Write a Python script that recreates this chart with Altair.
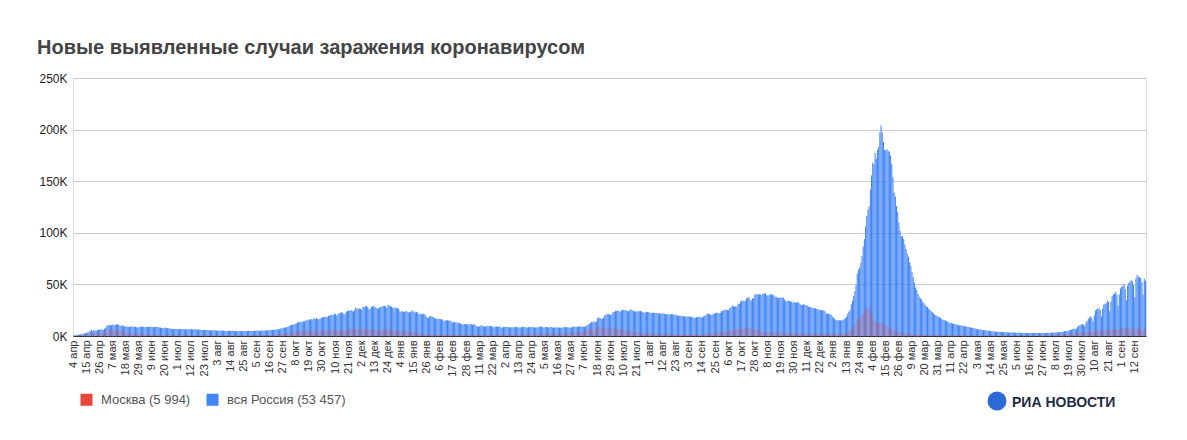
import altair as alt
import pandas as pd

# ---------------- data (thousands of new cases per day) ----------------
ru_2020_04 = [0.6,0.58,0.66,1.15,1.18,1.46,1.79,1.67,2.19,2.56,
              2.77,3.39,3.45,4.07,4.79,6.06,4.27,5.64,5.24,4.77,
              5.85,5.97,6.36,6.2,6.41,5.84,7.1]
ru_2020_05 = [7.93,9.62,10.63,10.58,10.1,10.56,11.23,10.7,10.82,11.01,
              11.66,10.9,10.03,9.97,10.6,9.2,9.71,8.93,9.26,8.76,
              8.85,8.89,9.43,8.6,8.95,8.92,8.34,8.37,8.57,8.95,9.27]
ru_2020_06 = [9.04,8.86,8.54,8.83,8.73,8.86,8.98,8.99,8.6,8.4,
              8.78,8.99,8.71,8.84,8.25,8.25,7.84,7.79,7.97,7.89,
              7.73,7.6,7.43,7.18,7.11,6.8,6.85,6.79,6.72,6.69]
ru_2020_07 = [6.56,6.76,6.72,6.74,6.63,6.61,6.37,6.56,6.51,6.64,
              6.61,6.62,6.54,6.25,6.42,6.43,6.41,6.23,6.11,5.94,
              5.84,5.86,5.85,5.81,5.87,5.77,5.64,5.4,5.48,5.51,5.48]
ru_2020_08 = [5.46,5.43,5.16,5.2,5.27,5.24,5.21,5.19,5.12,4.95,
              4.89,5.1,5.06,5.07,5.06,4.97,4.84,4.75,4.83,4.77,
              4.87,4.92,4.85,4.7,4.68,4.71,4.83,4.94,4.98,4.9,4.73]
ru_2020_09 = [4.73,4.95,5.11,5.11,5.21,5.2,5.19,5.1,5.22,5.36,
              5.41,5.45,5.49,5.51,5.53,5.67,5.76,5.91,6.07,6.15,
              6.2,6.22,6.43,6.6,7.21,7.52,7.87,8.14,8.23,8.48]
ru_2020_10 = [8.95,9.41,10.5,10.89,10.89,11.12,11.62,12.13,12.85,13.63,
              13.59,13.87,13.75,14.23,14.28,15.15,15.1,15.98,15.72,16.32,
              16.19,15.97,17.34,16.52,17.35,16.55,16.2,16.55,17.72,18.28,18.14]
ru_2020_11 = [18.67,18.26,18.65,19.77,19.4,20.58,20.5,20.4,21.8,20.98,
              19.85,21.61,21.98,22.78,22.57,22.7,21.4,20.98,23.61,24.32,
              24.82,24.58,25.17,24.33,23.68,25.49,27.54,26.68,26.34,26.68]
ru_2020_12 = [26.4,25.35,28.15,28.21,28.78,29.04,28.14,26.1,26.19,28.59,
              28.21,29.35,28.14,27.33,26.69,26.81,27.79,28.21,28.55,28.95,
              29.35,28.78,27.04,29.94,29.26,29.02,28.28,27.79,26.51,27.75,26.82]
ru_2021_01 = [27.03,26.3,24.25,23.35,24.15,23.31,23.54,24.22,23.65,22.85,
              23.32,22.93,24.76,23.51,24.09,22.85,23.59,22.86,21.15,21.13,
              21.51,21.15,21.73,21.13,19.29,17.74,17.65,19.14,19.03,19.24,18.36]
ru_2021_02 = [17.65,16.64,16.71,16.69,16.63,16.47,16.05,15.92,14.21,14.98,
              15.17,15.26,15.02,14.74,14.59,12.74,13.44,13.89,13.19,13.2,
              12.74,12.93,11.75,11.57,11.2,11.53,11.61,11.36]
ru_2021_03 = [11.39,10.57,11.53,11.39,11.02,11.53,10.6,9.91,9.27,9.08,
              9.8,10.14,10.02,9.91,9.27,9.08,9.8,9.84,9.63,9.7,
              9.39,8.91,8.46,9.13,9.29,9.07,9.17,9.09,8.28,8.05,8.89]
ru_2021_04 = [8.67,8.81,8.81,8.65,8.33,8.29,8.77,8.29,8.7,8.77,
              8.6,8.27,8.3,8.17,8.4,8.9,8.74,8.71,8.69,8.05,
              8.45,8.99,8.39,8.73,8.76,8.32,8.12,8.12,8.36,8.74]
ru_2021_05 = [9.3,9.27,8.42,7.77,8.8,8.62,8.42,8.27,8.79,8.95,
              8.35,8.22,8.22,8.22,8.55,8.33,8.12,8.07,8.22,8.21,
              8.95,8.55,8.62,8.35,8.26,8.25,8.13,8.95,8.94,8.95,9.06]
ru_2021_06 = [9.02,9.12,9.14,9.16,9.35,9.05,8.95,9.23,10.4,11.06,
              11.7,12.51,13.72,13.4,14.19,13.4,14.06,17.26,17.91,17.61,
              16.72,16.72,17.59,20.18,20.39,21.67,21.65,20.54,20.62,21.04]
ru_2021_07 = [23.54,23.22,24.44,24.35,24.7,23.96,23.38,24.82,25.77,25.08,
              25.14,24.7,24.47,23.77,25.29,25.7,25.02,24.44,23.95,23.77,
              24.07,23.7,24.14,24.11,23.77,23.03,22.8,22.42,23.27,23.56,23.27]
ru_2021_08 = [22.59,22.2,22.59,22.59,22.3,22.32,22.33,22.12,22.0,21.66,
              21.93,21.82,21.63,21.1,21.07,20.99,20.77,21.06,21.05,21.0,
              20.6,20.53,20.56,19.63,19.63,19.63,19.6,19.5,19.5,18.87,18.98]
ru_2021_09 = [18.78,18.85,18.78,18.69,18.37,17.86,17.86,17.52,18.34,18.17,
              18.45,18.69,17.84,18.06,18.84,19.59,20.17,21.44,21.56,21.44,
              20.33,20.17,21.38,21.78,22.14,22.43,22.29,21.8,22.43,23.89]
ru_2021_10 = [24.52,25.0,25.78,25.15,25.13,25.12,27.25,27.51,29.36,29.41,
              28.19,28.72,28.72,31.3,31.3,33.21,34.3,34.33,33.74,34.07,
              36.34,37.14,37.68,35.66,34.33,36.58,36.44,40.1,40.1,40.99,40.25]
ru_2021_11 = [40.4,40.1,40.22,40.74,41.27,41.34,39.16,39.4,39.16,40.76,
              40.12,40.2,39.26,38.06,37.92,37.15,36.82,37.37,37.12,37.37,
              37.16,35.68,33.56,33.6,34.68,33.86,33.55,33.55,32.14,32.93]
ru_2021_12 = [32.6,32.14,32.93,32.1,31.3,29.93,29.93,30.93,30.1,29.9,
              29.63,28.49,28.09,27.79,27.43,27.4,27.01,26.82,26.13,25.83,
              25.79,25.3,25.08,24.9,24.75,23.72,21.44,21.92,21.88,21.07,20.81]
ru_2022_01 = [18.78,17.86,16.75,15.83,15.31,15.16,15.27,15.19,15.05,15.83,
              16.25,17.5,18.54,21.26,23.82,25.04,30.73,33.9,38.82,43.39,
              49.51,60.2,64.3,66.1,70.8,77.7,86.8,94.0,106.1,116.2,122.5]
ru_2022_02 = [125.8,141.9,155.8,168.2,166.6,177.3,171.9,180.5,183.1,197.1,
              203.9,197.1,187.9,180.5,180.1,180.9,179.6,178.5,175.0,166.6,
              153.8,139.1,135.2,126.0,120.5,110.0,102.0,96.5]
ru_2022_03 = [97.2,94.1,88.6,84.3,79.8,76.7,71.4,67.9,61.8,57.3,
              51.6,47.2,44.5,40.8,38.3,36.9,35.1,33.0,31.8,30.2,
              28.6,28.1,26.7,25.2,24.1,23.5,22.0,20.7,20.2,19.3,18.9]
ru_2022_04 = [18.1,17.7,16.2,15.8,15.4,14.9,14.4,13.5,13.3,12.7,
              12.5,12.1,11.9,11.7,11.2,10.8,10.6,10.2,10.3,9.9,
              9.7,9.6,9.2,9.1,8.8,8.7,8.3,8.2,7.7,7.6]
ru_2022_05 = [7.2,7.1,6.6,6.5,6.3,6.2,5.8,5.7,5.5,5.5,
              5.3,5.2,5.0,4.8,4.6,4.7,4.4,4.4,4.2,4.2,
              4.0,4.0,3.8,3.9,3.7,3.8,3.6,3.6,3.5,3.5,3.4]
ru_2022_06 = [3.4,3.3,3.3,3.2,3.2,3.1,3.2,3.1,3.0,3.0,
              3.1,2.9,2.9,3.0,2.9,2.8,2.9,2.8,2.8,2.9,
              2.8,2.9,2.8,2.9,2.9,2.8,2.9,3.0,3.0,3.1]
ru_2022_07 = [3.1,3.0,3.1,3.2,3.3,3.3,3.4,3.5,3.6,3.6,
              3.8,3.9,4.1,4.3,4.6,4.8,4.7,5.0,5.4,5.9,
              6.4,6.8,7.2,6.7,7.3,8.8,9.9,10.6,11.2,11.6,10.9]
ru_2022_08 = [9.5,13.0,14.5,16.4,17.9,19.0,17.4,14.0,20.1,24.7,
              25.8,26.3,27.0,25.1,19.0,26.7,30.5,31.2,31.6,34.5,
              33.0,24.0,33.5,38.5,40.5,41.0,42.7,39.9,29.5,40.2,46.0]
ru_2022_09 = [47.5,48.6,49.9,45.2,34.5,48.7,51.3,52.6,54.0,53.1,
              49.5,37.6,55.8,59.0,57.5,56.9,56.2,52.0,40.0,55.2,53.457]

msk_2020_04 = [0.43,0.45,0.5,0.7,0.8,1.0,1.12,1.0,1.35,1.49,
               1.6,1.7,1.79,1.96,2.65,3.57,2.55,2.61,2.95,2.21,
               2.95,3.08,3.4,2.9,3.0,2.22,3.07]
msk_2020_05 = [4.1,5.36,6.0,5.95,5.7,6.7,6.0,5.8,5.4,5.6,
               6.17,5.9,4.7,4.8,5.5,4.0,3.5,3.25,3.05,2.5,
               2.6,2.3,2.99,2.5,2.3,2.1,2.0,2.0,2.1,2.2,2.3]
msk_2020_06 = [2.1,2.0,1.6,1.8,1.6,1.6,1.6,1.6,1.6,1.4,
               1.3,1.3,1.2,1.2,1.1,1.1,1.0,1.0,0.95,0.9,
               0.9,0.85,0.8,0.8,0.75,0.75,0.7,0.7,0.68,0.65]
msk_2020_07 = [0.65,0.65,0.7,0.7,0.68,0.65,0.6,0.6,0.62,0.65,
               0.64,0.65,0.62,0.6,0.62,0.64,0.65,0.64,0.64,0.62,
               0.62,0.62,0.64,0.65,0.65,0.64,0.64,0.64,0.65,0.66,0.66]
msk_2020_08 = [0.68,0.67,0.68,0.69,0.7,0.7,0.7,0.69,0.69,0.68,
               0.68,0.69,0.69,0.7,0.7,0.69,0.69,0.68,0.68,0.67,
               0.67,0.66,0.66,0.64,0.63,0.62,0.63,0.66,0.68,0.7,0.7]
msk_2020_09 = [0.7,0.72,0.74,0.73,0.74,0.75,0.76,0.74,0.75,0.8,
               0.85,0.9,0.95,1.0,1.05,1.05,1.05,1.1,1.3,1.5,
               1.56,1.56,1.6,1.7,2.0,2.22,2.26,2.36,2.45,2.5]
msk_2020_10 = [2.71,2.9,3.33,3.5,3.55,3.23,3.77,4.08,4.36,4.88,
               4.75,4.9,4.4,4.4,4.3,4.62,5.1,5.38,4.7,4.65,
               4.1,3.82,4.75,4.49,5.2,4.3,4.3,4.5,5.0,5.26,5.16]
msk_2020_11 = [5.26,4.95,5.26,5.0,4.9,6.25,6.0,5.98,6.9,5.4,
               4.7,5.6,5.8,6.3,5.9,5.9,5.0,5.0,6.0,6.5,
               6.7,7.0,7.1,7.2,6.8,6.6,7.2,7.0,6.8,6.7]
msk_2020_12 = [6.6,6.5,7.1,7.2,7.5,7.9,6.9,5.3,5.9,6.4,
               6.5,6.6,6.4,6.0,5.1,5.2,5.5,5.7,6.0,6.4,
               6.9,6.5,5.9,8.2,7.6,6.8,6.0,5.8,5.4,5.6,5.5]
msk_2021_01 = [5.3,5.1,4.8,4.4,4.6,4.4,4.6,4.9,4.8,4.6,
               4.4,4.2,4.1,3.6,3.4,3.2,3.1,3.1,2.6,2.5,
               2.4,2.3,2.1,2.0,1.95,1.8,1.7,1.9,1.9,1.9,1.7]
msk_2021_02 = [1.7,1.5,1.7,1.75,1.8,1.8,1.7,1.8,1.5,1.65,
               1.75,1.8,1.9,1.8,1.7,1.4,1.5,1.6,1.6,1.6,
               1.5,1.5,1.4,1.4,1.35,1.4,1.5,1.5]
msk_2021_03 = [1.4,1.3,1.4,1.4,1.4,1.5,1.5,1.4,1.3,1.2,
               1.4,1.5,1.5,1.4,1.3,1.2,1.4,1.5,1.5,1.5,
               1.5,1.45,1.4,1.6,1.6,1.6,1.7,1.7,1.3,1.4,1.7]
msk_2021_04 = [1.7,1.8,1.8,1.8,1.6,1.5,1.6,1.6,1.7,1.8,
               1.8,1.6,1.6,1.7,1.8,1.9,2.0,2.0,1.9,1.8,
               1.9,2.0,2.0,2.1,2.1,1.9,1.9,2.0,2.1,2.2]
msk_2021_05 = [2.3,2.4,2.2,2.1,2.3,2.3,2.4,2.5,2.6,2.6,
               2.5,2.4,2.4,2.5,2.6,2.7,2.7,2.7,2.8,2.9,
               3.0,3.1,3.2,3.2,3.3,3.4,3.5,3.7,3.6,3.7,3.8]
msk_2021_06 = [3.8,3.9,4.0,4.3,4.4,4.5,4.8,5.2,5.3,5.8,
               6.2,6.7,7.0,7.3,6.1,6.5,6.8,9.1,9.1,8.6,
               7.9,7.4,7.0,7.2,7.4,7.4,7.1,6.5,6.9,7.6]
msk_2021_07 = [7.6,7.0,7.4,7.0,6.8,6.6,6.3,6.4,6.2,6.0,
               5.7,5.3,4.9,4.7,4.9,5.0,4.6,4.4,4.1,3.9,
               3.7,3.5,3.6,3.4,3.2,3.0,2.9,2.9,2.9,2.8,2.8]
msk_2021_08 = [2.7,2.6,2.7,2.6,2.5,2.5,2.4,2.4,2.3,2.3,
               2.3,2.3,2.2,2.2,2.2,2.2,2.1,2.1,2.1,2.1,
               2.0,2.0,1.9,1.8,1.7,1.7,1.7,1.7,1.7,1.7,1.7]
msk_2021_09 = [1.7,1.8,1.7,1.7,1.6,1.6,1.6,1.6,1.6,1.7,
               1.8,1.8,1.8,1.8,1.9,2.0,2.1,2.3,2.5,2.5,
               2.6,2.7,2.9,3.1,3.3,3.4,3.4,3.5,3.6,4.0]
msk_2021_10 = [4.1,4.3,4.3,4.4,4.6,4.8,5.3,5.6,6.0,5.9,
               6.0,6.3,6.5,6.7,6.9,7.1,7.2,7.3,7.2,7.8,
               8.0,8.3,8.2,7.2,6.8,6.7,6.6,6.9,6.6,6.1,5.6]
msk_2021_11 = [5.0,4.8,4.6,4.3,4.0,3.8,3.6,3.4,3.6,3.8,
               3.7,3.5,3.4,3.3,3.1,3.2,3.3,3.3,3.2,3.1,
               3.0,2.9,2.8,2.9,2.9,2.9,2.8,2.7,2.6,2.7]
msk_2021_12 = [2.7,2.6,2.6,2.5,2.5,2.4,2.4,2.4,2.4,2.4,
               2.3,2.3,2.2,2.2,2.2,2.2,2.2,2.2,2.2,2.3,
               2.4,2.3,2.3,2.2,2.2,2.2,2.1,2.2,2.3,2.4,2.4]
msk_2022_01 = [2.3,2.2,2.1,2.0,2.0,2.0,2.0,2.1,2.2,2.5,
               2.6,3.1,3.5,4.2,4.8,5.6,6.0,7.0,8.6,10.9,
               13.5,16.7,17.5,18.2,19.0,20.5,22.0,23.8,25.0,26.3,26.6]
msk_2022_02 = [27.0,26.2,21.5,18.5,16.2,14.3,12.8,12.5,12.6,12.9,
               13.0,12.7,11.5,10.5,9.8,9.2,8.8,8.2,7.5,6.8,
               6.0,5.3,4.9,4.5,4.1,3.8,3.4,3.2]
msk_2022_03 = [3.0,2.9,2.8,2.6,2.5,2.3,2.2,2.1,2.0,1.9,
               1.8,1.8,1.7,1.6,1.6,1.5,1.5,1.4,1.4,1.3,
               1.3,1.3,1.2,1.2,1.2,1.1,1.1,1.1,1.0,1.0,1.0]
msk_2022_04 = [1.0,0.95,0.9,0.9,0.9,0.85,0.85,0.85,0.8,0.8,
               0.8,0.8,0.75,0.75,0.75,0.7,0.7,0.7,0.7,0.68,
               0.68,0.66,0.66,0.65,0.65,0.64,0.64,0.63,0.62,0.62]
msk_2022_05 = [0.6,0.6,0.58,0.58,0.57,0.56,0.55,0.55,0.54,0.54,
               0.53,0.53,0.52,0.52,0.52,0.51,0.51,0.5,0.5,0.5,
               0.5,0.49,0.49,0.48,0.48,0.48,0.47,0.47,0.47,0.46,0.46]
msk_2022_06 = [0.46,0.46,0.45,0.45,0.45,0.45,0.44,0.44,0.44,0.44,
               0.45,0.45,0.46,0.46,0.47,0.48,0.48,0.49,0.5,0.5,
               0.52,0.53,0.55,0.57,0.58,0.6,0.62,0.66,0.7,0.75]
msk_2022_07 = [0.8,0.85,0.9,0.95,1.0,1.05,1.1,1.15,1.2,1.25,
               1.3,1.4,1.5,1.6,1.7,1.8,1.9,2.0,2.1,2.3,
               2.5,2.7,2.8,2.6,2.9,3.1,3.2,3.3,3.4,3.5,3.3]
msk_2022_08 = [2.9,3.6,3.9,4.1,4.3,4.4,4.2,3.8,4.8,5.2,
               5.4,5.5,5.6,5.3,4.5,5.7,5.9,6.0,6.1,6.3,
               6.1,5.0,6.2,6.6,6.8,6.9,7.0,6.7,5.6,6.8,7.2]
msk_2022_09 = [7.3,7.4,7.5,7.0,5.8,7.2,7.4,7.5,7.6,7.4,
               7.0,5.6,7.1,7.3,7.1,6.9,6.7,6.3,5.0,6.2,5.994]

# (year, month, first day, Russia, Moscow)
months = [
    (2020, 4, 4, ru_2020_04, msk_2020_04), (2020, 5, 1, ru_2020_05, msk_2020_05),
    (2020, 6, 1, ru_2020_06, msk_2020_06), (2020, 7, 1, ru_2020_07, msk_2020_07),
    (2020, 8, 1, ru_2020_08, msk_2020_08), (2020, 9, 1, ru_2020_09, msk_2020_09),
    (2020, 10, 1, ru_2020_10, msk_2020_10), (2020, 11, 1, ru_2020_11, msk_2020_11),
    (2020, 12, 1, ru_2020_12, msk_2020_12), (2021, 1, 1, ru_2021_01, msk_2021_01),
    (2021, 2, 1, ru_2021_02, msk_2021_02), (2021, 3, 1, ru_2021_03, msk_2021_03),
    (2021, 4, 1, ru_2021_04, msk_2021_04), (2021, 5, 1, ru_2021_05, msk_2021_05),
    (2021, 6, 1, ru_2021_06, msk_2021_06), (2021, 7, 1, ru_2021_07, msk_2021_07),
    (2021, 8, 1, ru_2021_08, msk_2021_08), (2021, 9, 1, ru_2021_09, msk_2021_09),
    (2021, 10, 1, ru_2021_10, msk_2021_10), (2021, 11, 1, ru_2021_11, msk_2021_11),
    (2021, 12, 1, ru_2021_12, msk_2021_12), (2022, 1, 1, ru_2022_01, msk_2022_01),
    (2022, 2, 1, ru_2022_02, msk_2022_02), (2022, 3, 1, ru_2022_03, msk_2022_03),
    (2022, 4, 1, ru_2022_04, msk_2022_04), (2022, 5, 1, ru_2022_05, msk_2022_05),
    (2022, 6, 1, ru_2022_06, msk_2022_06), (2022, 7, 1, ru_2022_07, msk_2022_07),
    (2022, 8, 1, ru_2022_08, msk_2022_08), (2022, 9, 1, ru_2022_09, msk_2022_09),
]

LBL_MSK = "Москва (5 994)"
LBL_RU = "вся Россия (53 457)"
RED = "#e8453c"
BLUE = "#4285f4"

rows = []
dates = []
for y, m, d0, ru, msk in months:
    for i in range(len(ru)):
        ds = f"{y}-{m:02d}-{d0 + i:02d}"
        dates.append(ds)
        rows.append({"date": ds, "series": LBL_RU, "v": ru[i] * 1000})
        rows.append({"date": ds, "series": LBL_MSK, "v": msk[i] * 1000})
df = pd.DataFrame(rows)

tick_dates = dates[::11]
month_names = "['янв','фев','мар','апр','мая','июн','июл','авг','сен','окт','ноя','дек']"
label_expr = ("toNumber(substring(datum.value, 8, 10)) + ' ' + "
              + month_names + "[toNumber(substring(datum.value, 5, 7)) - 1]")

FONT = "Liberation Sans"

xscale = alt.Scale(paddingInner=0.12, paddingOuter=0)
xenc = alt.X("date:O", scale=xscale,
             axis=alt.Axis(values=tick_dates, labelExpr=label_expr, labelAngle=270,
                           labelFontSize=11, labelColor="#333", labelFont=FONT,
                           labelOverlap=False, labelPadding=4, ticks=False,
                           domain=True, domainColor="#333", grid=False, title=None))
yenc = alt.Y("v:Q", scale=alt.Scale(domain=[0, 250000], nice=False),
             axis=alt.Axis(values=[0, 50000, 100000, 150000, 200000, 250000],
                           labelExpr="datum.value / 1000 + 'K'", labelFontSize=12,
                           labelColor="#222", labelFont=FONT, labelPadding=6,
                           grid=True, gridColor="#cccccc", domain=False, ticks=False,
                           title=None))
color = alt.Color("series:N",
                  scale=alt.Scale(domain=[LBL_MSK, LBL_RU], range=[RED, BLUE]),
                  legend=alt.Legend(orient="none", legendX=7, legendY=315,
                                    direction="horizontal", title=None,
                                    symbolType="square", symbolSize=144,
                                    symbolStrokeWidth=0, symbolOpacity=1,
                                    labelFontSize=13, labelColor="#555",
                                    labelFont=FONT, labelOffset=8,
                                    columnPadding=15, padding=0))

base = alt.Chart(df)
ru_bars = base.transform_filter(alt.datum.series == LBL_RU).mark_bar().encode(
    x=xenc, y=yenc, color=color)
msk_bars = base.transform_filter(alt.datum.series == LBL_MSK).mark_bar(
    width=alt.RelativeBandSize(0.28)).encode(x=xenc, y=yenc, color=color)

logo_df = pd.DataFrame({"t": ["РИА НОВОСТИ"]})
logo_icon = alt.Chart(logo_df).mark_point(filled=True, shape="circle", size=360,
                                          color="#2a6bd6", opacity=1).encode(
    x=alt.value(924), y=alt.value(323))
logo_text = alt.Chart(logo_df).mark_text(align="left", baseline="alphabetic",
                                         fontSize=14, fontWeight="bold",
                                         font=FONT, color="#1f2a44").encode(
    text="t:N", x=alt.value(939), y=alt.value(329))

chart = alt.layer(ru_bars, msk_bars, logo_icon, logo_text).properties(
    width=1073, height=258,
    padding={"left": 65, "top": 70, "right": 20, "bottom": 90},
    autosize=alt.AutoSizeParams(type="none"),
    title=alt.TitleParams("Новые выявленные случаи заражения коронавирусом",
                          anchor="start", dx=-2, offset=14, fontSize=20,
                          fontWeight="bold", color="#444", font=FONT),
).configure_view(stroke=None).configure(background="white")

chart.save("out.html", embed_options={"renderer": "svg", "actions": False})
